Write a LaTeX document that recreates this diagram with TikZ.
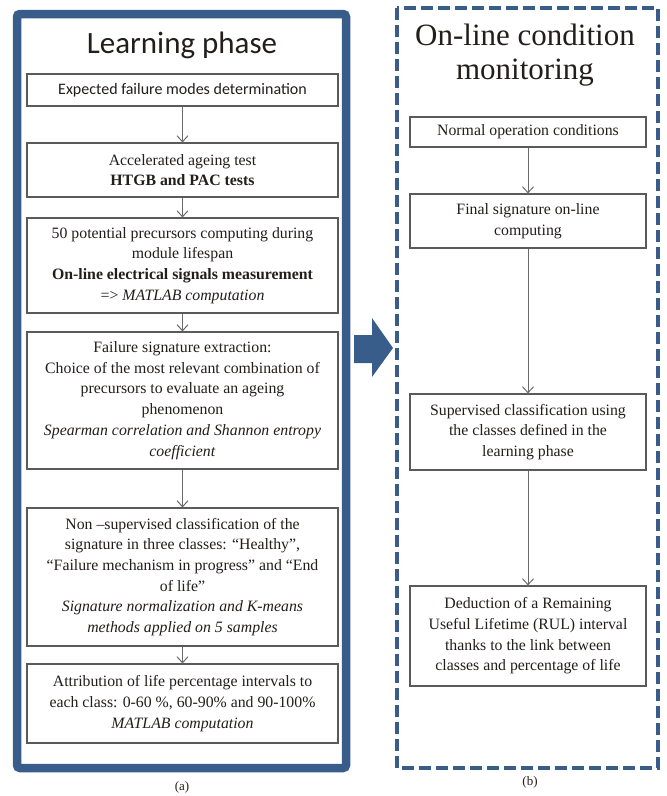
\documentclass[tikz,border=0pt]{standalone}
\usepackage{fontspec}
\setmainfont{Liberation Serif}
\newfontfamily\calib{Carlito}
\usetikzlibrary{arrows.meta}
\definecolor{frameblue}{RGB}{56,93,138}
\definecolor{boxline}{RGB}{90,90,90}
\definecolor{txt}{RGB}{35,30,28}
\tikzset{
  stepbox/.style={draw=boxline, line width=1.1pt, fill=white, align=center, text=txt,
    inner sep=0pt, font=\fontsize{15.8}{20.7}\selectfont},
  flow/.style={draw=boxline!90, line width=1pt, -{Straight Barb[length=6pt,width=11pt,line width=1pt]}},
}
\begin{document}
\begin{tikzpicture}[x=1pt,y=-1pt]
\useasboundingbox (0,0) rectangle (667,796);
% frames
\draw[frameblue, line width=8.5pt, rounded corners=3pt] (17,14) rectangle (346,768);
\draw[frameblue, line width=3.5pt, dash pattern=on 12pt off 5pt] (397,8) rectangle (658,768);
% titles
\node[text=txt, font=\calib\fontsize{31}{34}\selectfont] (t1) at (182,45) {Learning phase};
\node[text=txt, align=center, font=\fontsize{31}{34}\selectfont] (t2) at (525,55) {On-line condition\\monitoring};
% left boxes
\node[stepbox, minimum width=311pt, minimum height=32pt, font=\calib\fontsize{16}{20}\selectfont] (b1) at (182.5,90) {Expected failure modes determination};
\node[stepbox, minimum width=311pt, minimum height=54pt] (b2) at (182.5,170) {Accelerated ageing test\\\textbf{HTGB and PAC tests}};
\node[stepbox, minimum width=311pt, minimum height=95pt] (b3) at (182.5,265.5) {50 potential precursors computing during\\module lifespan\\\textbf{On-line electrical signals measurement}\\=> \textit{MATLAB computation}};
\node[stepbox, minimum width=311pt, minimum height=137pt] (b4) at (182.5,400.5) {Failure signature extraction:\\Choice of the most relevant combination of\\precursors to evaluate an ageing\\phenomenon\\\textit{Spearman correlation and Shannon entropy}\\\textit{coefficient}};
\node[stepbox, minimum width=311pt, minimum height=138pt] (b5) at (182.5,577) {Non –supervised classification of the\\signature in three classes: “Healthy”,\\“Failure mechanism in progress” and “End\\of life”\\\textit{Signature normalization and K-means}\\\textit{methods applied on 5 samples}};
\node[stepbox, minimum width=311pt, minimum height=79pt] (b6) at (182.5,703.5) {Attribution of life percentage intervals to\\each class: 0-60 \%, 60-90\% and 90-100\%\\\textit{MATLAB computation}};
% right boxes
\node[stepbox, minimum width=236pt, minimum height=30pt] (r1) at (528,132) {Normal operation conditions};
\node[stepbox, minimum width=236pt, minimum height=54pt] (r2) at (528,221) {Final signature on-line\\computing};
\node[stepbox, minimum width=236pt, minimum height=76pt] (r3) at (528,432) {Supervised classification using\\the classes defined in the\\learning phase};
\node[stepbox, minimum width=236pt, minimum height=100pt] (r4) at (528,636) {Deduction of a Remaining\\Useful Lifetime (RUL) interval\\thanks to the link between\\classes and percentage of life};
% arrows
\draw[flow] (b1) -- (b2);
\draw[flow] (b2) -- (b3);
\draw[flow] (b3) -- (b4);
\draw[flow] (b4) -- (b5);
\draw[flow] (b5) -- (b6);
\draw[flow] (r1) -- (r2);
\draw[flow] (r2) -- (r3);
\draw[flow] (r3) -- (r4);
% big block arrow
\fill[frameblue] (354,335) -- (372,335) -- (372,318) -- (393,348) -- (372,377) -- (372,363) -- (354,363) -- cycle;
% captions
\node[text=txt, font=\fontsize{13}{15}\selectfont] (ca) at (182,787) {(a)};
\node[text=txt, font=\fontsize{13}{15}\selectfont] (cb) at (530,782) {(b)};
\end{tikzpicture}
\end{document}
